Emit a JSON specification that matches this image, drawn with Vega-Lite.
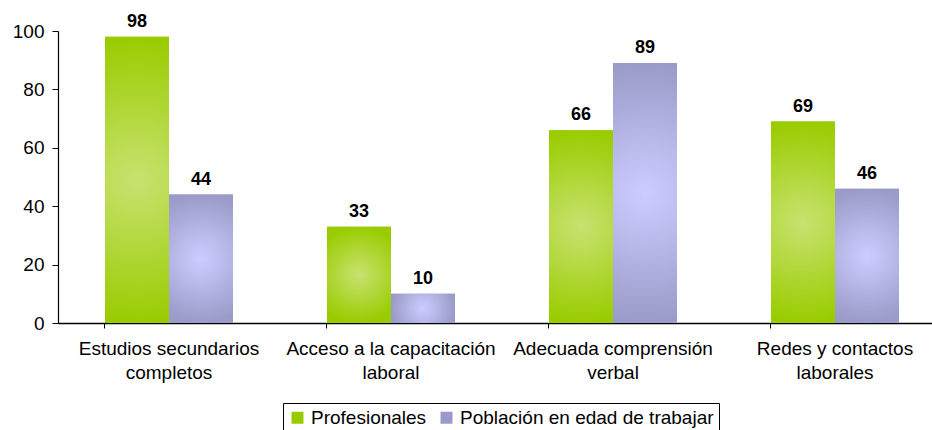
{
  "$schema": "https://vega.github.io/schema/vega-lite/v6.json",
  "width": 874,
  "height": 292,
  "autosize": "none",
  "padding": {"left": 58, "top": 31, "right": 0, "bottom": 107},
  "background": "white",
  "config": {
    "view": {"stroke": null},
    "font": "Liberation Sans",
    "axis": {"labelFont": "Liberation Sans", "labelColor": "#000000", "domainColor": "#000000", "tickColor": "#000000", "grid": false, "title": null}
  },
  "data": {
    "values": [
      {"categoria": "Estudios secundarios completos", "serie": "Profesionales", "valor": 98},
      {"categoria": "Estudios secundarios completos", "serie": "Población en edad de trabajar", "valor": 44},
      {"categoria": "Acceso a la capacitación laboral", "serie": "Profesionales", "valor": 33},
      {"categoria": "Acceso a la capacitación laboral", "serie": "Población en edad de trabajar", "valor": 10},
      {"categoria": "Adecuada comprensión verbal", "serie": "Profesionales", "valor": 66},
      {"categoria": "Adecuada comprensión verbal", "serie": "Población en edad de trabajar", "valor": 89},
      {"categoria": "Redes y contactos laborales", "serie": "Profesionales", "valor": 69},
      {"categoria": "Redes y contactos laborales", "serie": "Población en edad de trabajar", "valor": 46}
    ]
  },
  "encoding": {
    "x": {
      "field": "categoria",
      "type": "nominal",
      "sort": null,
      "scale": {"range": [0, 888], "paddingInner": 0.4234, "paddingOuter": 0.2117},
      "axis": {
        "labelAngle": 0,
        "labelFontSize": 19,
        "labelLineHeight": 24,
        "labelPadding": 11,
        "tickSize": 5,
        "bandPosition": 0,
        "domainWidth": 1.5,
        "labelLimit": 400,
        "labelExpr": "datum.label == 'Estudios secundarios completos' ? ['Estudios secundarios', 'completos'] : datum.label == 'Acceso a la capacitación laboral' ? ['Acceso a la capacitación', 'laboral'] : datum.label == 'Adecuada comprensión verbal' ? ['Adecuada comprensión', 'verbal'] : ['Redes y contactos', 'laborales']"
      }
    },
    "xOffset": {"field": "serie", "type": "nominal", "sort": ["Profesionales", "Población en edad de trabajar"], "scale": {"paddingInner": 0, "paddingOuter": 0}},
    "y": {
      "field": "valor",
      "type": "quantitative",
      "scale": {"domain": [0, 100], "nice": false},
      "axis": {"values": [0, 20, 40, 60, 80, 100], "labelFontSize": 19, "tickSize": 6, "labelPadding": 8, "domainWidth": 1.2}
    }
  },
  "layer": [
    {
      "mark": {"type": "bar"},
      "encoding": {
        "color": {
          "field": "serie",
          "type": "nominal",
          "sort": ["Profesionales", "Población en edad de trabajar"],
          "scale": {"domain": ["Profesionales", "Población en edad de trabajar"], "range": ["#99CC00", "#9999CC"]},
          "legend": {
            "title": null,
            "orient": "none",
            "legendX": 225,
            "legendY": 372,
            "direction": "horizontal",
            "symbolType": "square",
            "symbolSize": 144,
            "symbolStrokeWidth": 0,
            "labelFontSize": 19,
            "labelFont": "Liberation Sans",
            "labelColor": "#000000",
            "labelLimit": 400,
            "columnPadding": 10,
            "labelOffset": 4,
            "padding": 5,
            "strokeColor": "#000000",
            "fillColor": "white"
          }
        }
      }
    },
    {
      "mark": {"type": "bar"},
      "encoding": {
        "fill": {
          "condition": {
            "test": "datum.serie === 'Profesionales'",
            "value": {"gradient": "radial", "x1": 0.5, "y1": 0.5, "r1": 0, "x2": 0.5, "y2": 0.5, "r2": 0.5,
              "stops": [{"offset": 0, "color": "#C8E270"}, {"offset": 1, "color": "#99CC00"}]}
          },
          "value": {"gradient": "radial", "x1": 0.5, "y1": 0.5, "r1": 0, "x2": 0.5, "y2": 0.5, "r2": 0.5,
            "stops": [{"offset": 0, "color": "#CCCCFF"}, {"offset": 1, "color": "#9B9BC9"}]}
        }
      }
    },
    {
      "mark": {"type": "text", "baseline": "bottom", "dy": -6, "fontSize": 18, "fontWeight": "bold", "font": "Liberation Sans", "color": "#000000"},
      "encoding": {"text": {"field": "valor", "type": "quantitative"}}
    }
  ]
}
